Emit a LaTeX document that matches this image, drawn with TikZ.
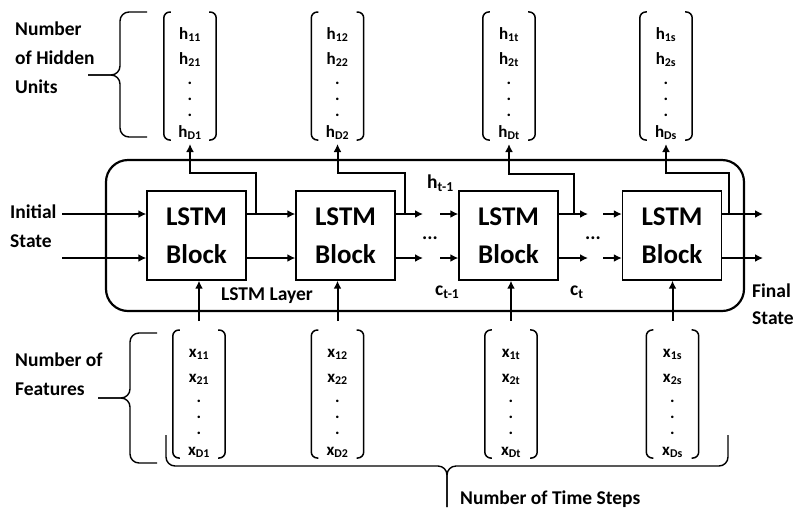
\documentclass[tikz,border=0pt]{standalone}
\usepackage{fontspec}
\setmainfont{Carlito}
\usetikzlibrary{arrows.meta}

\tikzset{
  block/.style={draw, line width=1.4pt, minimum width=99pt, minimum height=89pt,
    align=center, font=\fontsize{27}{38}\selectfont\bfseries},
  lbl/.style={inner sep=0pt, align=left, font=\fontsize{19.5}{29}\selectfont\bfseries},
  vec/.style={inner sep=0pt, minimum width=52pt, minimum height=125pt,
    align=center, font=\fontsize{17}{25}\selectfont\bfseries},
  flow/.style={line width=2pt, -{Latex[length=8pt,width=8pt]}},
  paren/.style={line width=1.5pt, rounded corners=6pt},
  brace/.style={line width=1.4pt, rounded corners=9pt},
}

% entries of one column vector: #1 letter, #2 time index
\newcommand{\colentries}[2]{%
  \rule{0pt}{27pt}#1\textsubscript{1#2}\\%
  #1\textsubscript{2#2}\\[-5pt]%
  .\\[-9pt]%
  .\\[-9pt]%
  .\\[-4pt]%
  #1\textsubscript{D#2}}

% round brackets around a vector node
\newcommand{\vecparens}[1]{%
  \draw[paren] ([xshift=7pt]#1.north west) -- (#1.north west) -- (#1.south west) -- ([xshift=7pt]#1.south west);
  \draw[paren] ([xshift=-7pt]#1.north east) -- (#1.north east) -- (#1.south east) -- ([xshift=-7pt]#1.south east);}

\begin{document}
\begin{tikzpicture}[x=1pt, y=-1pt]
  \useasboundingbox (0,0) rectangle (797,515);

  % the layer
  \draw[line width=2.2pt, rounded corners=22pt] (106,160) rectangle (744,311);
  \node[lbl, anchor=base] (layer) at (267,300) {LSTM Layer};

  % the blocks
  \node[block] (b1) at (196.5,235.5) {LSTM\\Block};
  \node[block] (b2) at (345.5,235.5) {LSTM\\Block};
  \node[block] (b3) at (508.5,235.5) {LSTM\\Block};
  \node[block] (b4) at (672,235.5) {LSTM\\Block};

  % hidden state vectors
  \node[vec] (h1) at (190,76) {\colentries{h}{1}};
  \node[vec] (h2) at (337.5,76) {\colentries{h}{2}};
  \node[vec] (h3) at (509,76) {\colentries{h}{t}};
  \node[vec] (h4) at (666,76) {\colentries{h}{s}};

  % input vectors
  \node[vec] (x1) at (199,394) {\colentries{x}{1}};
  \node[vec] (x2) at (337.5,394) {\colentries{x}{2}};
  \node[vec] (x3) at (511,394) {\colentries{x}{t}};
  \node[vec] (x4) at (672.5,394) {\colentries{x}{s}};

  \vecparens{h1} \vecparens{h2} \vecparens{h3} \vecparens{h4}
  \vecparens{x1} \vecparens{x2} \vecparens{x3} \vecparens{x4}

  % free ends and junctions
  \coordinate (in1) at (62,214);
  \coordinate (in2) at (62,258);
  \coordinate (g1) at (423,214);
  \coordinate (g2) at (440,214);
  \coordinate (g3) at (588,214);
  \coordinate (g4) at (603,214);
  \coordinate (out1) at (763,214);
  \coordinate (j1) at (256,214);
  \coordinate (j2) at (405,214);
  \coordinate (j3) at (574,214);
  \coordinate (j4) at (729,214);

  % states through the layer
  \draw[flow] (in1) -- (b1.west |- in1);
  \draw[flow] (in2) -- (b1.west |- in2);
  \draw[flow] (b1.east |- in1) -- (b2.west |- in1);
  \draw[flow] (b1.east |- in2) -- (b2.west |- in2);
  \draw[flow] (b2.east |- in1) -- (g1);
  \draw[flow] (b2.east |- in2) -- (g1 |- in2);
  \draw[flow] (g2) -- (b3.west |- in1);
  \draw[flow] (g2 |- in2) -- (b3.west |- in2);
  \draw[flow] (b3.east |- in1) -- (g3);
  \draw[flow] (b3.east |- in2) -- (g3 |- in2);
  \draw[flow] (g4) -- (b4.west |- in1);
  \draw[flow] (g4 |- in2) -- (b4.west |- in2);
  \draw[flow] (b4.east |- in1) -- (out1);
  \draw[flow] (b4.east |- in2) -- (out1 |- in2);

  \node[lbl, anchor=base west] (dots1) at (422,239) {...};
  \node[lbl, anchor=base west] (dots2) at (585,239) {...};

  % hidden outputs
  \draw[flow, shorten >=4pt] (j1) -- ++(0,-41) -| (h1.south);
  \draw[flow, shorten >=4pt] (j2) -- ++(0,-41) -| (h2.south);
  \draw[flow, shorten >=4pt] (j3) -- ++(0,-40) -| (h3.south);
  \draw[flow, shorten >=4pt] (j4) -- ++(0,-41) -| (h4.south);

  % inputs
  \draw[flow] ([yshift=9pt]x1.north) -- (x1 |- b1.south);
  \draw[flow] ([yshift=9pt]x2.north) -- (x2 |- b2.south);
  \draw[flow] ([yshift=9pt]x3.north) -- (x3 |- b3.south);
  \draw[flow] ([yshift=9pt]x4.north) -- (x4 |- b4.south);

  % state labels
  \node[lbl, anchor=base west] (hprev) at (427,188) {h\textsubscript{t-1}};
  \node[lbl, anchor=base west] (cprev) at (435,295) {c\textsubscript{t-1}};
  \node[lbl, anchor=base west] (ccur) at (570,295) {c\textsubscript{t}};
  \node[lbl, anchor=north west] (init) at (10,205) {Initial\\State};
  \node[lbl, anchor=north west] (final) at (752,284) {Final\\[-2pt]State};

  % braces and their labels
  \draw[brace] (147,12) -- (120,12) -- (120,75) -- (88,75);
  \draw[brace] (147,137) -- (120,137) -- (120,75) -- (88,75);
  \node[lbl, anchor=north west] (hidden) at (15,22) {Number\\of Hidden\\Units};

  \draw[brace] (157,333) -- (130,333) -- (130,398) -- (98,398);
  \draw[brace] (157,463) -- (130,463) -- (130,398) -- (98,398);
  \node[lbl, anchor=north west] (feat) at (15,353) {Number of\\Features};

  \draw[brace] (166,435) -- (166,466) -- (447,466) -- (447,507);
  \draw[brace] (728,435) -- (728,466) -- (447,466) -- (447,507);
  \node[lbl, anchor=north west] (steps) at (460,491) {Number of Time Steps};
\end{tikzpicture}
\end{document}
